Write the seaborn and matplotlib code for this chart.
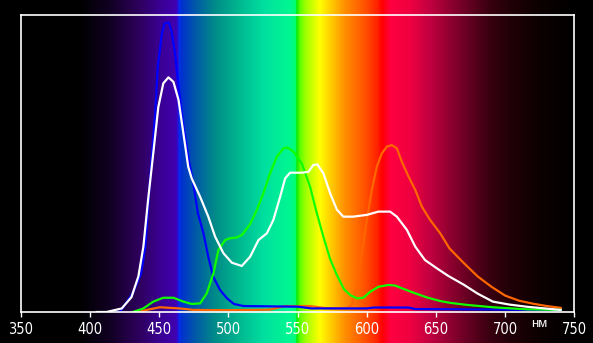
import numpy as np
import matplotlib
matplotlib.use("Agg")
import matplotlib.pyplot as plt
from matplotlib import font_manager
from matplotlib.font_manager import FontProperties
import seaborn as sns

# ---------------- data ----------------
ticks = [350, 400, 450, 500, 550, 600, 650, 700, 750]
tick_labels = [str(t) for t in ticks]
unit_label = "нм"

blue_wl = [420, 422, 431, 437, 440, 443, 447, 449, 452, 454, 457, 459, 461.5, 464, 467.5,
           471, 475, 478, 482, 485.5, 489, 494, 499, 504, 511, 530, 550, 560, 600, 605,
           630, 635, 700, 740]
blue_v = [0.0, 0.002, 0.064, 0.13, 0.22, 0.42, 0.66, 0.826, 0.938, 0.972, 0.974, 0.944,
          0.871, 0.759, 0.624, 0.523, 0.422, 0.332, 0.265, 0.186, 0.119, 0.074, 0.046,
          0.027, 0.02, 0.019, 0.018, 0.012, 0.012, 0.015, 0.015, 0.01, 0.008, 0.006]

white_wl = [405, 412, 423, 430, 435, 438.6, 442, 446, 449.4, 453, 456.7, 460.3, 464, 467.5,
            471, 473.5, 479.6, 485.5, 490.4, 496.4, 502.5, 509.7, 515.7, 521.7, 527.8,
            532.5, 537.4, 541, 544.6, 553, 557.8, 561.4, 564.3, 568.6, 573.5, 578.3, 583,
            590, 600, 608.4, 616.8, 621.7, 629, 635, 642, 650.6, 659, 670, 680, 691, 703,
            715, 740]
white_v = [0.0, 0.0, 0.012, 0.05, 0.12, 0.22, 0.377, 0.545, 0.69, 0.77, 0.79, 0.775, 0.714,
           0.602, 0.489, 0.45, 0.388, 0.321, 0.254, 0.198, 0.166, 0.155, 0.186, 0.242,
           0.265, 0.31, 0.388, 0.45, 0.469, 0.469, 0.472, 0.495, 0.497, 0.467, 0.4, 0.345,
           0.321, 0.321, 0.327, 0.338, 0.338, 0.321, 0.276, 0.22, 0.175, 0.147, 0.121,
           0.092, 0.062, 0.035, 0.025, 0.018, 0.007]

green_wl = [431, 438.6, 445.8, 453, 460.3, 467.5, 473.5, 479.6, 484.4, 489.2, 492.8, 497.6,
            501, 506, 510, 515.7, 520.5, 525.3, 530.1, 535, 539.7, 542.6, 547, 553, 559,
            563.9, 568.6, 573.5, 578.3, 583.5, 588, 592.8, 597.5, 602.4, 608.4, 615.6,
            620.5, 625.3, 633.7, 643.4, 653, 660, 672, 691, 715, 740]
green_v = [0.0, 0.012, 0.035, 0.048, 0.048, 0.035, 0.027, 0.029, 0.063, 0.13, 0.209, 0.242,
           0.248, 0.251, 0.26, 0.296, 0.343, 0.4, 0.467, 0.523, 0.551, 0.554, 0.54, 0.5,
           0.422, 0.332, 0.254, 0.178, 0.125, 0.077, 0.057, 0.046, 0.048, 0.068, 0.085,
           0.091, 0.089, 0.08, 0.065, 0.049, 0.037, 0.031, 0.024, 0.016, 0.009, 0.007]

orange_wl = [435, 441, 450.6, 465, 474.7, 500, 530, 541, 559, 570, 585.6, 589.2, 592.8,
             596.4, 600, 603.6, 607.2, 610.8, 614.5, 618.1, 621.7, 625.3, 630.1, 635,
             639.7, 645.7, 653, 659.7, 670, 680, 690, 700, 710, 720, 730, 740]
orange_v = [0.0, 0.007, 0.016, 0.012, 0.007, 0.006, 0.008, 0.02, 0.02, 0.013, 0.012,
            0.024, 0.085, 0.198, 0.31, 0.411, 0.489, 0.534, 0.557, 0.562, 0.551, 0.506,
            0.456, 0.411, 0.355, 0.31, 0.265, 0.214, 0.165, 0.12, 0.085, 0.055, 0.038,
            0.028, 0.02, 0.014]

# ---------------- figure ----------------
W, H, DPI = 593, 343, 100
fig = plt.figure(figsize=(W / DPI, H / DPI), dpi=DPI)
fig.patch.set_facecolor("black")

# spectrum gradient (style: colour stops in wavelength)
stops = [
    (300, "#000000"), (393, "#000000"), (415, "#120024"), (436, "#2e005e"),
    (450, "#3a0090"), (462, "#4000b0"), (463.8, "#2810d8"), (464.5, "#0030f0"),
    (466, "#0030d0"), (476, "#0058a8"), (490, "#008a88"), (508, "#00b890"),
    (526, "#00e0a0"), (545, "#00f890"), (548.5, "#00ff70"), (549.5, "#10e800"),
    (552, "#60ff00"), (556, "#a0ff00"), (566, "#ffff00"), (573.5, "#ffd000"),
    (584, "#ff9000"), (599, "#ff5000"), (608, "#ff2000"), (611, "#ff0000"),
    (617, "#ff0040"), (631, "#f00040"), (646, "#c00040"), (660, "#900030"),
    (675, "#600020"), (689, "#380010"), (704, "#200008"), (725, "#0c0000"),
    (740, "#050000"), (750, "#000000"), (800, "#000000"),
]
ax_left_px, ax_right_px = 20.7, 574.5
ax_top_px, ax_bot_px = 15.0, 312.0
px = np.arange(W) + 0.5
wl_px = 350 + (px - ax_left_px) * 400 / (ax_right_px - ax_left_px)
sw = np.array([s[0] for s in stops])
sc = np.array([matplotlib.colors.to_rgb(s[1]) for s in stops])
img_row = np.stack([np.interp(wl_px, sw, sc[:, k]) for k in range(3)], axis=-1)
img = np.repeat(img_row[None, :, :], 4, axis=0)

bg = fig.add_axes([0, 0, 1, 1])
bg.imshow(img, aspect="auto", extent=[0, W, 0, H], interpolation="nearest")
bg.set_xlim(0, W)
bg.set_ylim(0, H)
bg.axis("off")
bg.set_zorder(0)

ax = fig.add_axes([ax_left_px / W, (H - ax_bot_px) / H,
                   (ax_right_px - ax_left_px) / W, (ax_bot_px - ax_top_px) / H])
ax.set_zorder(1)
ax.patch.set_alpha(0)

lw = 1.6
sns.lineplot(x=orange_wl, y=orange_v, ax=ax, color="#ff6600", lw=lw, estimator=None, sort=False)
sns.lineplot(x=blue_wl, y=blue_v, ax=ax, color="#0000ff", lw=lw, estimator=None, sort=False)
sns.lineplot(x=green_wl, y=green_v, ax=ax, color="#10ff00", lw=lw, estimator=None, sort=False)
sns.lineplot(x=white_wl, y=white_v, ax=ax, color="#ffffff", lw=lw, estimator=None, sort=False)

ax.set_xlim(350, 750)
ax.set_ylim(0, 1)
for s in ax.spines.values():
    s.set_color("white")
    s.set_linewidth(1.2)

avail = {f.name for f in font_manager.fontManager.ttflist}
if "Liberation Sans Narrow" in avail:
    tick_fp = FontProperties(family="Liberation Sans Narrow", size=11)
else:
    tick_fp = FontProperties(family="DejaVu Sans", stretch="condensed", size=10.5)

ax.set_xticks(ticks)
ax.set_xticklabels(tick_labels, fontproperties=tick_fp, color="white")
ax.tick_params(axis="x", direction="out", length=3.5, width=1, color="white", pad=4)
ax.set_yticks([])
ax.set_xlabel("")
ax.set_ylabel("")

ax.text(724.5, -0.04, unit_label, ha="center", va="center", color="white",
        fontsize=9.5, family=["Liberation Sans", "DejaVu Sans"], clip_on=False)

fig.savefig("out.png", dpi=DPI, facecolor="black")
